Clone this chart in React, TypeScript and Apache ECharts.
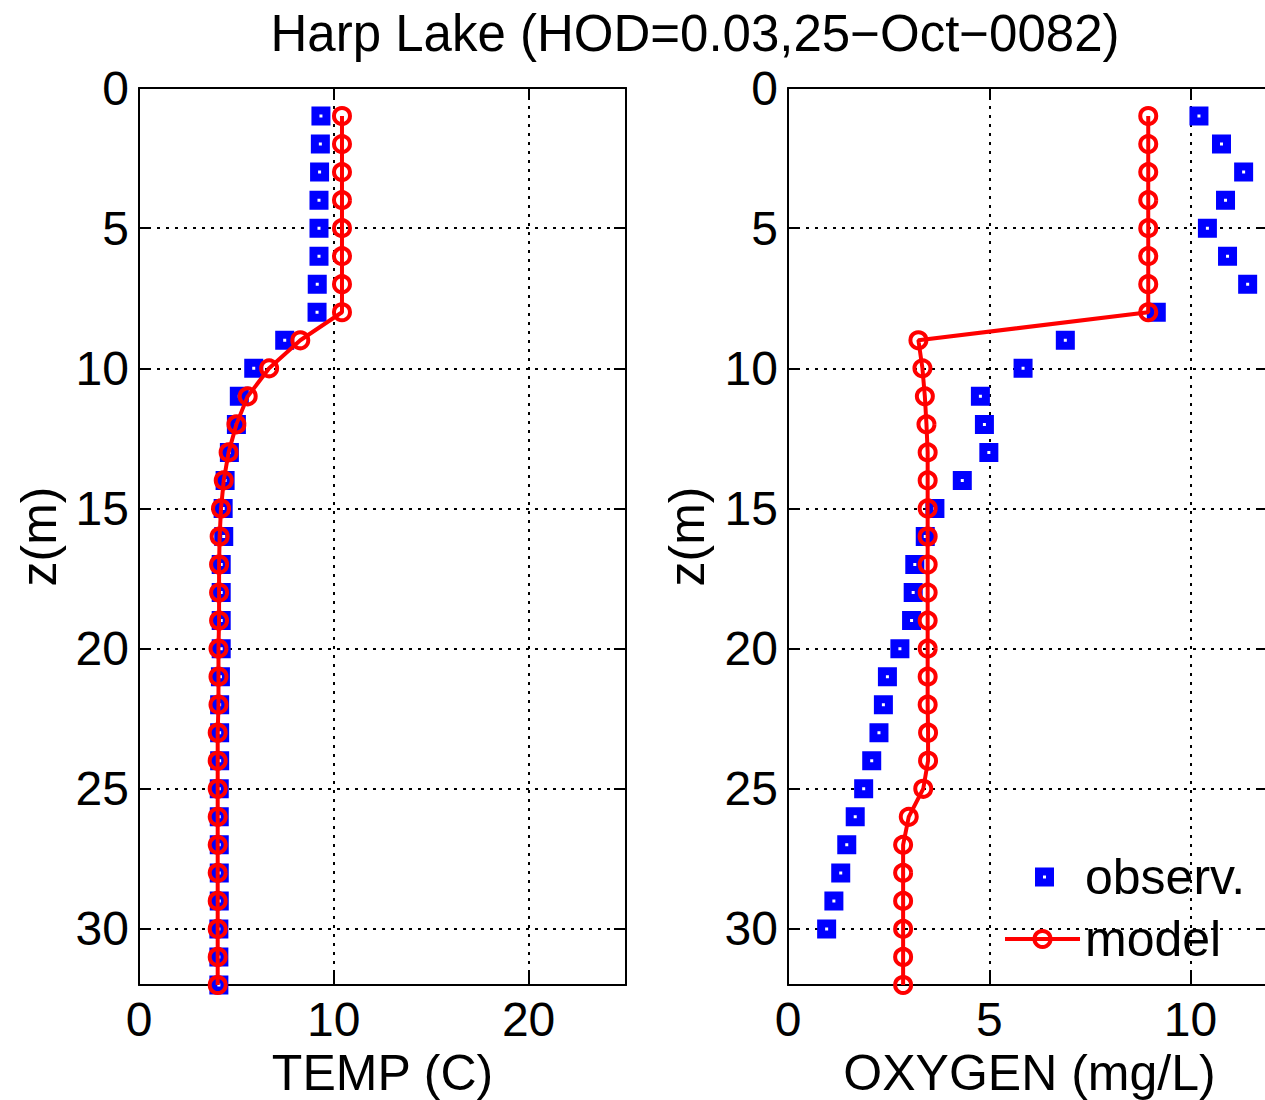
import React, { useEffect, useRef } from "react";
import * as echarts from "echarts";

const depth = [1, 2, 3, 4, 5, 6, 7, 8, 9, 10, 11, 12, 13, 14, 15, 16, 17, 18, 19, 20, 21, 22, 23, 24, 25, 26, 27, 28, 29, 30, 31, 32];
const tempObs = [9.34, 9.31, 9.27, 9.24, 9.24, 9.24, 9.15, 9.14, 7.48, 5.89, 5.15, 5.0, 4.64, 4.42, 4.32, 4.35, 4.22, 4.22, 4.22, 4.22, 4.18, 4.14, 4.14, 4.14, 4.12, 4.12, 4.12, 4.12, 4.12, 4.1, 4.1, 4.1];
const tempModel = [10.42, 10.42, 10.42, 10.42, 10.42, 10.42, 10.42, 10.42, 8.28, 6.68, 5.58, 5.0, 4.6, 4.35, 4.21, 4.14, 4.11, 4.11, 4.11, 4.08, 4.08, 4.08, 4.04, 4.04, 4.04, 4.04, 4.04, 4.04, 4.04, 4.04, 4.04, 4.04];
const oxyObs = [10.21, 10.77, 11.32, 10.87, 10.42, 10.92, 11.42, 9.15, 6.89, 5.84, 4.78, 4.88, 4.99, 4.33, 3.65, 3.41, 3.15, 3.11, 3.07, 2.78, 2.47, 2.37, 2.26, 2.08, 1.88, 1.67, 1.46, 1.31, 1.14, 0.96];
const oxyModel = [8.95, 8.95, 8.95, 8.95, 8.95, 8.95, 8.95, 8.95, 3.24, 3.34, 3.4, 3.44, 3.47, 3.47, 3.47, 3.47, 3.47, 3.47, 3.47, 3.47, 3.47, 3.47, 3.48, 3.48, 3.36, 3.0, 2.86, 2.86, 2.86, 2.86, 2.86, 2.86];

const titleText = "Harp Lake (HOD=0.03,25\u2212Oct\u22120082)";
const tempName = "TEMP (C)";
const oxyName = "OXYGEN (mg/L)";
const depthName = "z(m)";
const obsName = "observ.";
const modelName = "model";

const FONT = "Liberation Sans, Arial, Helvetica, sans-serif";
const BLUE = "#0000ff";
const RED = "#ff0000";

export default function App() {
  const ref = useRef<HTMLDivElement>(null);
  useEffect(() => {
    if (!ref.current) return;
    const chart = echarts.init(ref.current, null, { renderer: "svg" });
    const pair = (xs: number[]) => xs.map((v, i) => [v, depth[i]]);
    const gridLine = { show: true, lineStyle: { color: "#000", width: 2, type: [3, 6] } };
    const axLine = { show: true, onZero: false, lineStyle: { color: "#000", width: 2 } };
    const tick = { show: true, inside: true, length: 12, lineStyle: { color: "#000", width: 2 } };
    const lbl = (step: number) => ({
      show: true,
      fontSize: 48,
      fontFamily: FONT,
      color: "#000",
      formatter: (v: number) => (Math.abs(v % step) < 1e-9 ? String(v) : ""),
    });
    const mkX = (grid: number, max: number, interval: number, name: string) => [
      {
        type: "value", gridIndex: grid, position: "bottom", min: 0, max, interval,
        axisLine: axLine, axisTick: tick, splitLine: gridLine,
        axisLabel: { ...lbl(interval), margin: 10 },
        name, nameLocation: "middle", nameGap: 62,
        nameTextStyle: { fontSize: 50, fontFamily: FONT, color: "#000" },
      },
      {
        type: "value", gridIndex: grid, position: "top", min: 0, max, interval,
        axisLine: axLine, axisTick: tick, splitLine: { show: false }, axisLabel: { show: false },
      },
    ];
    const mkY = (grid: number, gap: number) => [
      {
        type: "value", gridIndex: grid, position: "left", min: 0, max: 32, interval: 5, inverse: true,
        axisLine: axLine, axisTick: tick, splitLine: gridLine,
        axisLabel: { ...lbl(5), margin: 10 },
        name: depthName, nameLocation: "middle", nameGap: gap, nameRotate: 90,
        nameTextStyle: { fontSize: 50, fontFamily: FONT, color: "#000" },
      },
      {
        type: "value", gridIndex: grid, position: "right", min: 0, max: 32, interval: 5, inverse: true,
        axisLine: axLine, axisTick: tick, splitLine: { show: false }, axisLabel: { show: false },
      },
    ];
    const obsStyle = { color: "#ffffff", borderColor: BLUE, borderWidth: 8, opacity: 1 };
    const modStyle = { color: "rgba(0,0,0,0)", borderColor: RED, borderWidth: 4, opacity: 1 };
    const option: any = {
      animation: false,
      backgroundColor: "#ffffff",
      textStyle: { fontFamily: FONT },
      grid: [
        { left: 139, top: 88, width: 487, height: 897, outerBoundsMode: "none", containLabel: false },
        { left: 788, top: 88, width: 483, height: 897, outerBoundsMode: "none", containLabel: false },
      ],
      xAxis: [...mkX(0, 25, 10, tempName), ...mkX(1, 12, 5, oxyName)],
      yAxis: [...mkY(0, 75), ...mkY(1, 76)],
      legend: [
        {
          data: [obsName], left: 1035, top: 852, padding: 0, itemWidth: 11, itemHeight: 11,
          textStyle: { fontSize: 50, fontFamily: FONT, color: "#000", padding: [0, 0, 0, 30] },
          itemStyle: obsStyle, selectedMode: false,
        },
        {
          data: [modelName], left: 1003, top: 914, padding: 0, itemWidth: 75, itemHeight: 20,
          textStyle: { fontSize: 50, fontFamily: FONT, color: "#000" },
          itemStyle: modStyle, lineStyle: { color: RED, width: 4 }, selectedMode: false,
        },
      ],
      graphic: [
        {
          type: "text", x: 695, y: 33,
          style: { text: titleText, fontSize: 51, fontFamily: FONT, fill: "#000", textAlign: "center", textVerticalAlign: "middle" },
        },
      ],
      series: [
        {
          type: "scatter", name: obsName, xAxisIndex: 0, yAxisIndex: 0, data: pair(tempObs),
          symbol: "rect", symbolSize: 11, itemStyle: obsStyle, z: 2,
        },
        {
          type: "line", name: modelName, xAxisIndex: 0, yAxisIndex: 0, data: pair(tempModel),
          symbol: "circle", symbolSize: 16, showAllSymbol: true, itemStyle: modStyle,
          lineStyle: { color: RED, width: 4 }, z: 3,
        },
        {
          type: "scatter", name: obsName, xAxisIndex: 2, yAxisIndex: 2, data: pair(oxyObs),
          symbol: "rect", symbolSize: 11, itemStyle: obsStyle, z: 2,
        },
        {
          type: "line", name: modelName, xAxisIndex: 2, yAxisIndex: 2, data: pair(oxyModel),
          symbol: "circle", symbolSize: 16, showAllSymbol: true, itemStyle: modStyle,
          lineStyle: { color: RED, width: 4 }, z: 3,
        },
      ],
    };
    chart.setOption(option);
    return () => chart.dispose();
  }, []);
  return (
    <div style={{ position: "absolute", left: 0, top: 0, width: 1265, height: 1100, overflow: "hidden", background: "#fff" }}>
      <div ref={ref} style={{ width: 1290, height: 1100 }} />
    </div>
  );
}
